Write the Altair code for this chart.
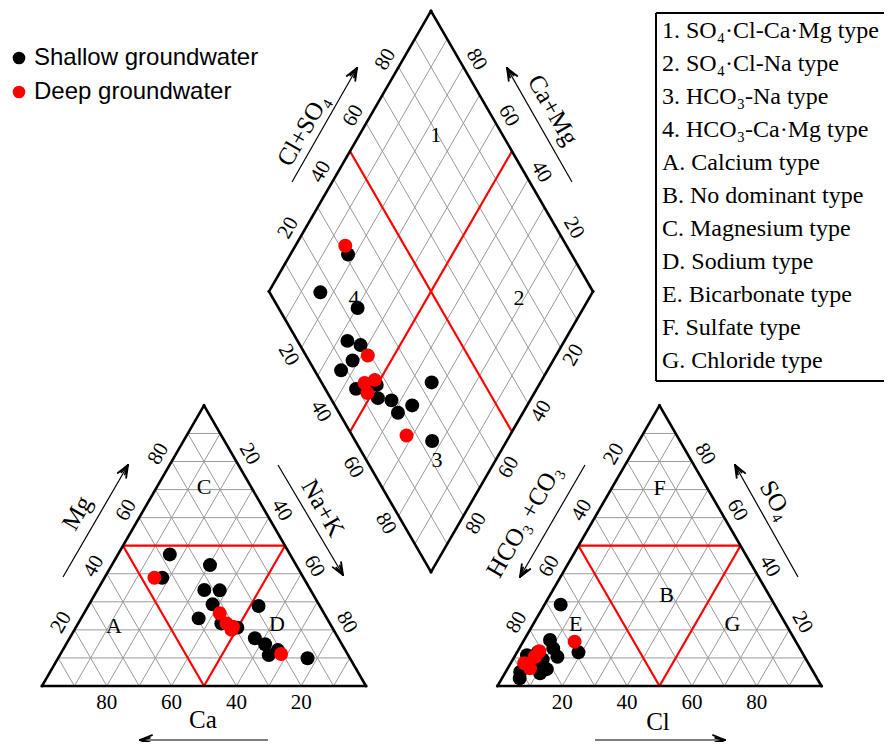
import altair as alt
import numpy as np
import pandas as pd

# ---------------- data (percent of meq/L) ----------------
shallow_mg  = [46.9, 38.6, 43.1, 34.2, 34.1, 29.1, 24.1, 22.3, 20.8, 28.5, 17.0, 14.9, 11.0, 12.8, 9.9]
shallow_na  = [16.0, 17.8, 30.3, 33.0, 37.8, 38.1, 36.3, 44.2, 49.9, 52.6, 57.2, 61.4, 64.5, 66.4, 77.0]
shallow_so4 = [7.0, 12.0, 16.4, 4.5, 9.5, 8.0, 2.7, 5.0, 9.0, 11.0, 12.0, 6.0, 13.4, 29.0, 10.4]
shallow_cl  = [8.7, 19.0, 8.0, 10.9, 9.2, 5.5, 5.5, 4.5, 7.6, 3.6, 6.4, 12.2, 10.5, 5.0, 13.3]

deep_mg  = [38.6, 25.9, 22.3, 20.0, 21.1, 11.4]
deep_na  = [15.4, 41.9, 45.8, 48.5, 48.4, 68.1]
deep_so4 = [15.8, 12.4, 6.3, 8.1, 10.4, 10.5]
deep_cl  = [15.9, 6.7, 6.9, 4.2, 6.5, 6.3]

series_names = ["Shallow groundwater", "Deep groundwater"]
series_colors = ["#000000", "#ff0000"]
tick_values = [20, 40, 60, 80]

legend_types = ["1. SO\u2084\u00b7Cl-Ca\u00b7Mg type", "2. SO\u2084\u00b7Cl-Na type",
                "3. HCO\u2083-Na type", "4. HCO\u2083-Ca\u00b7Mg type",
                "A. Calcium type", "B. No dominant type", "C. Magnesium type",
                "D. Sodium type", "E. Bicarbonate type", "F. Sulfate type", "G. Chloride type"]

# zone labels, positioned in percent units
cation_zone_names = ["C", "A", "D"]
cation_zone_na = [14.6, 11.5, 61.5]
cation_zone_mg = [70.9, 21.4, 22.1]
anion_zone_names = ["F", "B", "E", "G"]
anion_zone_cl = [14.7, 36.0, 13.1, 61.5]
anion_zone_so4 = [70.6, 32.4, 22.1, 22.1]
diamond_zone_names = ["1", "2", "3", "4"]
diamond_zone_na = [23.6, 78.3, 81.9, 27.4]
diamond_zone_an = [79.4, 76.0, 21.8, 25.1]

# ---------------- layout geometry ----------------
S = 324.0
H = S * np.sqrt(3) / 2
LX0, LY0 = 42.0, 686.0      # cation triangle, Ca corner
RX0, RY0 = 497.5, 686.0     # anion triangle, HCO3 corner
DX0, DY0 = 269.0, 291.5     # diamond, left corner

def tri(x0, y0, right, top):
    right = np.asarray(right, float); top = np.asarray(top, float)
    return x0 + (right + top / 2) / 100 * S, y0 - top / 100 * H

def dia(c, a):
    c = np.asarray(c, float); a = np.asarray(a, float)
    return DX0 + (c + a) / 100 * S / 2, DY0 + (c - a) / 100 * H

# ---------------- segments ----------------
segs = []
def add(p, q, kind):
    segs.append(dict(x=float(p[0]), y=float(p[1]), x2=float(q[0]), y2=float(q[1]), kind=kind))

for x0, y0 in [(LX0, LY0), (RX0, RY0)]:
    for i in range(1, 10):
        p = i * 10
        add(tri(x0, y0, 0, p), tri(x0, y0, 100 - p, p), "grid")
        add(tri(x0, y0, p, 0), tri(x0, y0, p, 100 - p), "grid")
        add(tri(x0, y0, 100 - p, 0), tri(x0, y0, 0, 100 - p), "grid")
    add(tri(x0, y0, 0, 50), tri(x0, y0, 50, 50), "red")
    add(tri(x0, y0, 50, 0), tri(x0, y0, 50, 50), "red")
    add(tri(x0, y0, 50, 0), tri(x0, y0, 0, 50), "red")
    add(tri(x0, y0, 0, 0), tri(x0, y0, 100, 0), "edge")
    add(tri(x0, y0, 100, 0), tri(x0, y0, 0, 100), "edge")
    add(tri(x0, y0, 0, 100), tri(x0, y0, 0, 0), "edge")
for i in range(1, 10):
    p = i * 10
    add(dia(p, 0), dia(p, 100), "grid")
    add(dia(0, p), dia(100, p), "grid")
add(dia(50, 0), dia(50, 100), "red")
add(dia(0, 50), dia(100, 50), "red")
add(dia(0, 0), dia(100, 0), "edge")
add(dia(100, 0), dia(100, 100), "edge")
add(dia(100, 100), dia(0, 100), "edge")
add(dia(0, 100), dia(0, 0), "edge")

# legend box (open on the right edge of the picture)
add((656, 13), (884, 13), "box")
add((656, 13), (656, 381), "box")
add((656, 381), (884, 381), "box")

arrows = [((268, 740), (140, 740)), ((63, 577), (128, 465)), ((278, 465), (343, 575)),
          ((595, 740), (725, 740)), ((585, 465), (520, 577)), ((798, 577), (735, 465)),
          ((292, 182), (357, 68)), ((572, 182), (507, 68))]
for p, q in arrows:
    add(p, q, "arrow")
    th = np.arctan2(q[1] - p[1], q[0] - p[0])
    for s in (+1, -1):
        for ln, spread in ((13, 22), (10, 12)):
            b = th + np.pi + s * np.radians(spread)
            add(q, (q[0] + ln * np.cos(b), q[1] + ln * np.sin(b)), "head")
seg_df = pd.DataFrame(segs)

# ---------------- points ----------------
pts = []
for name, mg, na, so4, cl in [(series_names[0], shallow_mg, shallow_na, shallow_so4, shallow_cl),
                              (series_names[1], deep_mg, deep_na, deep_so4, deep_cl)]:
    mg = np.array(mg); na = np.array(na); so4 = np.array(so4); cl = np.array(cl)
    cx, cy = tri(LX0, LY0, na, mg)
    ax, ay = tri(RX0, RY0, cl, so4)
    dx, dy = dia(na, cl + so4)
    for XX, YY in [(cx, cy), (ax, ay), (dx, dy)]:
        for xi, yi in zip(XX, YY):
            pts.append(dict(x=float(xi), y=float(yi), series=name))
pts_df = pd.DataFrame(pts)

# ---------------- texts ----------------
texts = []
def addt(x, y, t, ang=0, fs=20, font="Liberation Serif", align="center"):
    texts.append(dict(x=float(x), y=float(y), label=t, ang=int(ang), fs=int(fs), font=font, al=align))

d = 15.0
TFS = 21
nL = (-0.866, -0.5); nR = (0.866, -0.5); nLB = (-0.866, 0.5); nRB = (0.866, 0.5)
for v in tick_values:
    x, y = tri(LX0, LY0, 100 - v, 0); addt(x, y + 17, str(v), 0, TFS)
    x, y = tri(LX0, LY0, 0, v); addt(x + nL[0] * d, y + nL[1] * d, str(v), 300, TFS)
    x, y = tri(LX0, LY0, v, 100 - v); addt(x + nR[0] * d, y + nR[1] * d, str(v), 60, TFS)
    x, y = tri(RX0, RY0, v, 0); addt(x, y + 17, str(v), 0, TFS)
    x, y = tri(RX0, RY0, 0, 100 - v); addt(x + nL[0] * d, y + nL[1] * d, str(v), 300, TFS)
    x, y = tri(RX0, RY0, 100 - v, v); addt(x + nR[0] * d, y + nR[1] * d, str(v), 60, TFS)
    x, y = dia(0, v); addt(x + nL[0] * d, y + nL[1] * d, str(v), 300, TFS)
    x, y = dia(100 - v, 100); addt(x + nR[0] * d, y + nR[1] * d, str(v), 60, TFS)
    x, y = dia(v, 0); addt(x + nLB[0] * d, y + nLB[1] * d, str(v), 60, TFS)
    x, y = dia(100, 100 - v); addt(x + nRB[0] * d, y + nRB[1] * d, str(v), 300, TFS)

titles = [("Ca", 203, 720, 0), ("Mg", 77, 513, 300), ("Na+K", 323, 508, 60),
          ("Cl", 658, 722, 0), ("HCO\u2083 +CO\u2083", 524, 521, 300), ("SO\u2084", 776, 500, 60),
          ("Cl+SO\u2084", 303, 130, 300), ("Ca+Mg", 553, 110, 60)]
for t, x, y, a in titles:
    addt(x, y, t, a, 25)

for n, na, mg in zip(cation_zone_names, cation_zone_na, cation_zone_mg):
    x, y = tri(LX0, LY0, na, mg); addt(x, y, n, 0, 22)
for n, cl, so4 in zip(anion_zone_names, anion_zone_cl, anion_zone_so4):
    x, y = tri(RX0, RY0, cl, so4); addt(x, y, n, 0, 22)
for n, c, a in zip(diamond_zone_names, diamond_zone_na, diamond_zone_an):
    x, y = dia(c, a); addt(x, y, n, 0, 22)

for i, t in enumerate(legend_types):
    addt(662, 31 + 33 * i, t, 0, 24, align="left")

for i, t in enumerate(series_names):
    addt(34, 58 + 34 * i, t, 0, 24, font="Liberation Sans", align="left")
leg_df = pd.DataFrame(dict(x=[19.0, 19.0], y=[58.0, 92.0], series=series_names))

text_df = pd.DataFrame(texts)

# ---------------- chart ----------------
xs = alt.Scale(domain=[8, 884], nice=False, zero=False)
ys = alt.Scale(domain=[742, 8], nice=False, zero=False)
X = alt.X("x:Q", scale=xs, axis=None)
Y = alt.Y("y:Q", scale=ys, axis=None)
color = alt.Color("series:N", scale=alt.Scale(domain=series_names, range=series_colors), legend=None)

def rules(kind, col, w, cap="butt"):
    sub = seg_df[seg_df.kind == kind]
    return alt.Chart(sub).mark_rule(color=col, strokeWidth=w, strokeCap=cap).encode(
        x=X, y=Y, x2="x2:Q", y2="y2:Q")

layers = [
    rules("grid", "#9a9a9a", 1),
    rules("red", "#ff0000", 2.2),
    rules("edge", "#000000", 2.6, "square"),
    rules("box", "#000000", 2),
    rules("arrow", "#000000", 1.2),
    rules("head", "#000000", 1.8, "round"),
]

layers.append(alt.Chart(pts_df[pts_df.series == series_names[0]]).mark_circle(size=195, opacity=1).encode(
    x=X, y=Y, color=color))
layers.append(alt.Chart(pts_df[pts_df.series == series_names[1]]).mark_circle(size=195, opacity=1).encode(
    x=X, y=Y, color=color))
layers.append(alt.Chart(leg_df).mark_circle(size=160, opacity=1).encode(x=X, y=Y, color=color))

groups = text_df.groupby(["font", "al", "ang", "fs"])
for (font, al, ang, fs), sub in groups:
    layers.append(alt.Chart(sub[["x", "y", "label"]]).mark_text(
        font=font, align=al, baseline="middle", color="#000000", angle=int(ang), fontSize=int(fs)
    ).encode(x=X, y=Y, text="label:N"))

chart = alt.layer(*layers).properties(width=876, height=734, padding=0, autosize="none",
                                      background="white").configure_view(strokeWidth=0)
chart.save("out.html", embed_options={"renderer": "svg", "actions": False})
